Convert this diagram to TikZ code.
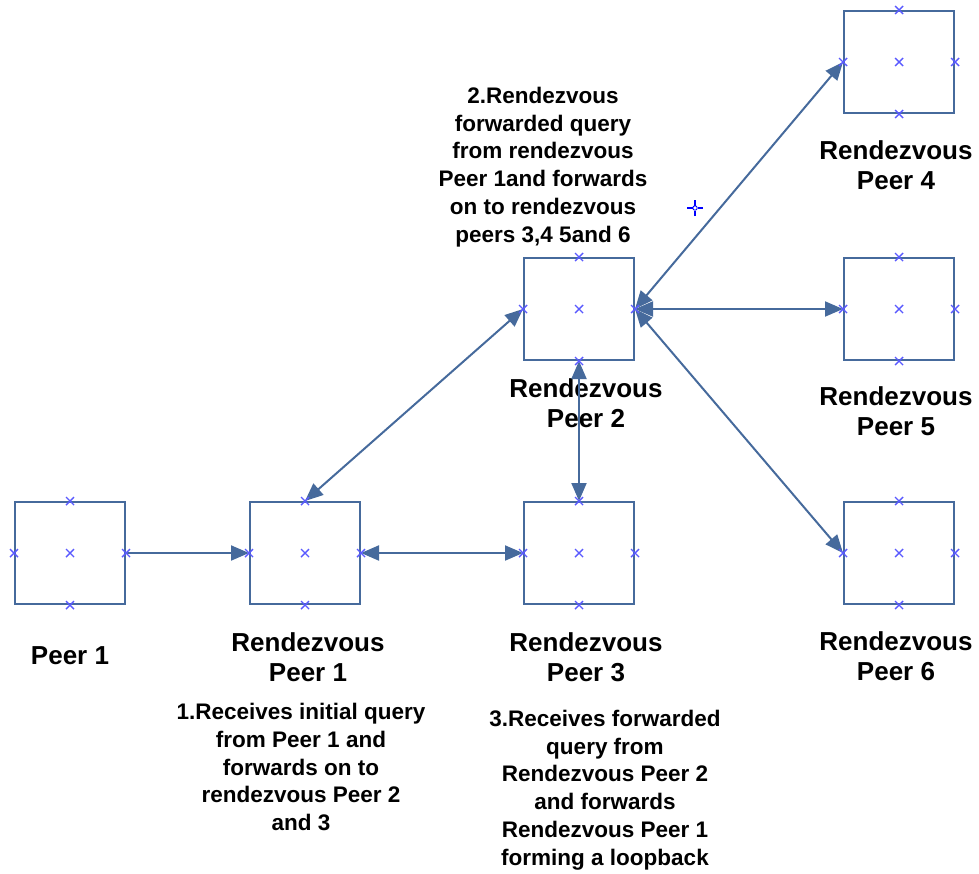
\documentclass[tikz,border=0pt]{standalone}
\usepackage{fontspec}
\setmainfont{Liberation Sans}
\usetikzlibrary{arrows.meta}
\definecolor{edgec}{RGB}{70,106,156}
\definecolor{markc}{RGB}{90,90,255}
\begin{document}
\begin{tikzpicture}[x=1pt,y=-1pt,
 peerbox/.style={draw=edgec,line width=2pt,minimum width=110pt,minimum height=102pt,inner sep=0pt},
 lbl/.style={font=\bfseries\fontsize{26}{30}\selectfont,align=center,inner sep=0pt},
 ann/.style={font=\bfseries\fontsize{22.5}{27.7}\selectfont,align=center,inner sep=0pt},
 conn/.style={draw=edgec,line width=2pt,-{Triangle[length=18pt,width=15pt]}},
 bconn/.style={draw=edgec,line width=2pt,{Triangle[length=18pt,width=15pt]}-{Triangle[length=18pt,width=15pt]}},
 xmark/.style={draw=markc,line width=1.4pt}
]
\useasboundingbox (0,0) rectangle (979,873);

% boxes
\node[peerbox] (p1) at (70,553) {};
\node[peerbox] (r1) at (305,553) {};
\node[peerbox] (r3) at (579,553) {};
\node[peerbox] (r2) at (579,309) {};
\node[peerbox] (r4) at (899,62) {};
\node[peerbox] (r5) at (899,309) {};
\node[peerbox] (r6) at (899,553) {};

% labels
\node[lbl] (lp1) at (70,656) {Peer 1};
\node[lbl] (lr1) at (308,657) {Rendezvous\\Peer 1};
\node[lbl] (lr3) at (586,657) {Rendezvous\\Peer 3};
\node[lbl] (lr2) at (586,403) {Rendezvous\\Peer 2};
\node[lbl] (lr4) at (896,165) {Rendezvous\\Peer 4};
\node[lbl] (lr5) at (896,411) {Rendezvous\\Peer 5};
\node[lbl] (lr6) at (896,656) {Rendezvous\\Peer 6};

% annotations
\node[ann] (a2) at (543,167) {2.Rendezvous\\forwarded query\\from rendezvous\\Peer 1and forwards\\on to rendezvous\\peers 3,4 5and 6};
\node[ann] (a1) at (301,767) {1.Receives initial query\\from Peer 1 and\\forwards on to\\rendezvous Peer 2\\and 3};
\node[ann] (a3) at (605,790) {3.Receives forwarded\\query from\\Rendezvous Peer 2\\and forwards\\Rendezvous Peer 1\\forming a loopback};

% connectors
\draw[conn] (p1.east) -- (r1.west);
\draw[bconn] (r1.east) -- (r3.west);
\draw[bconn] (r1.north) -- (r2.west);
\draw[bconn] (r2.south) -- (r3.north);
\draw[bconn] (r2.east) -- (r4.west);
\draw[bconn] (r2.east) -- (r5.west);
\draw[bconn] (r2.east) -- (r6.west);

% x markers
\foreach \n in {p1,r1,r2,r3,r4,r5,r6}
  \foreach \a in {center,north,south,east,west}
    \draw[xmark] ([shift={(-4,-4)}]\n.\a) -- ([shift={(4,4)}]\n.\a)
                 ([shift={(-4,4)}]\n.\a) -- ([shift={(4,-4)}]\n.\a);

% crosshair
\coordinate (ch) at (695,208);
\draw[blue,line width=1.2pt] ([xshift=-8pt]ch) -- ([xshift=-2.5pt]ch) ([xshift=2.5pt]ch) -- ([xshift=8pt]ch)
  ([yshift=-8pt]ch) -- ([yshift=-2.5pt]ch) ([yshift=2.5pt]ch) -- ([yshift=8pt]ch);
\draw[blue,line width=0.9pt] (ch) circle (2.2pt);
\end{tikzpicture}
\end{document}
